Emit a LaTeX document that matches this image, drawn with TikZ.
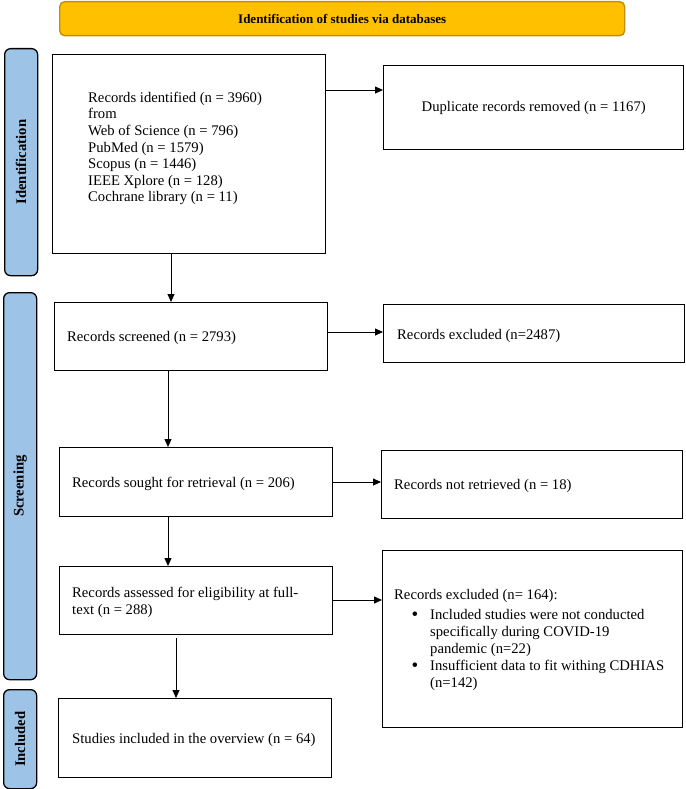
\documentclass[tikz,border=0pt]{standalone}
\usepackage{fontspec}
\setmainfont{Liberation Serif}
\usetikzlibrary{arrows.meta,calc}
\definecolor{hdrfill}{HTML}{FFC000}
\definecolor{hdrdraw}{HTML}{BF9000}
\definecolor{barfill}{HTML}{9DC3E6}
\begin{document}
\begin{tikzpicture}[x=1pt,y=-1pt,
  box/.style={draw=black, line width=1.4pt, rectangle, inner sep=0pt, anchor=north west},
  bar/.style={draw=black, line width=1.3pt, fill=barfill, rounded corners=6pt, rectangle, inner sep=0pt, anchor=north west},
  hdr/.style={draw=hdrdraw, line width=1.4pt, fill=hdrfill, rounded corners=5pt, rectangle, inner sep=0pt, anchor=north west, font=\bfseries\fontsize{13pt}{15pt}\selectfont},
  txt/.style={inner sep=0pt, anchor=base west, font=\fontsize{14.67pt}{16.5pt}\selectfont},
  dot/.style={inner sep=0pt, anchor=base west, font=\fontsize{19pt}{19pt}\selectfont},
  lbl/.style={inner sep=0pt, rotate=90, font=\bfseries\fontsize{14.67pt}{16.5pt}\selectfont},
  arr/.style={line width=0.8pt, -{Triangle[length=8pt,width=7pt]}}
]
\useasboundingbox (0,0) rectangle (685,789);

% header
\node[hdr, minimum width=565pt, minimum height=34pt] (hdr) at (59,1) {Identification of studies via databases};

% side bars
\node[bar, minimum width=33pt, minimum height=227pt] (barI) at (4,48) {};
\node[lbl] (lblI) at (barI.center) {Identification};
\node[bar, minimum width=33pt, minimum height=387pt] (barS) at (3,292) {};
\node[lbl] (lblS) at (barS.center) {Screening};
\node[bar, minimum width=33pt, minimum height=99pt] (barN) at (3,689) {};
\node[lbl] (lblN) at (barN.center) {Included};

% boxes
\node[box, minimum width=273pt, minimum height=199pt] (b1) at (52,54) {};
\node[box, minimum width=300pt, minimum height=84pt] (b2) at (383,65) {};
\node[box, minimum width=273pt, minimum height=68pt] (b3) at (54,302) {};
\node[box, minimum width=301pt, minimum height=58pt] (b4) at (383,304) {};
\node[box, minimum width=273pt, minimum height=69pt] (b5) at (59,447) {};
\node[box, minimum width=301pt, minimum height=68pt] (b6) at (381,450) {};
\node[box, minimum width=273pt, minimum height=68pt] (b7) at (59,566) {};
\node[box, minimum width=300pt, minimum height=177pt] (b8) at (382,550) {};
\node[box, minimum width=273pt, minimum height=79pt] (b9) at (58,698) {};

% texts
\node[txt] (t1a) at (88,102.5) {Records identified (n = 3960)};
\node[txt] (t1b) at (88,119) {from};
\node[txt] (t1c) at (88,135.5) {Web of Science (n = 796)};
\node[txt] (t1d) at (88,152) {PubMed (n = 1579)};
\node[txt] (t1e) at (88,168.5) {Scopus (n = 1446)};
\node[txt] (t1f) at (88,185) {IEEE Xplore (n = 128)};
\node[txt] (t1g) at (88,201.5) {Cochrane library (n = 11)};

\node[txt, anchor=center] (t2) at (b2.center) {Duplicate records removed (n = 1167)};
\node[txt] (t3) at (67,341.5) {Records screened (n = 2793)};
\node[txt] (t4) at (397,339.5) {Records excluded (n=2487)};
\node[txt] (t5) at (72,487.5) {Records sought for retrieval (n = 206)};
\node[txt] (t6) at (394,489.5) {Records not retrieved (n = 18)};
\node[txt] (t7a) at (72,597.5) {Records assessed for eligibility at full-};
\node[txt] (t7b) at (72,614.5) {text (n = 288)};

\node[txt] (t8a) at (394,599.5) {Records excluded (n= 164):};
\node[dot] (u8a) at (411.5,620.5) {\textbullet};
\node[txt] (t8b) at (430,619.5) {Included studies were not conducted};
\node[txt] (t8c) at (430,636.5) {specifically during COVID-19};
\node[txt] (t8d) at (430,653.5) {pandemic (n=22)};
\node[dot] (u8b) at (411.5,671.5) {\textbullet};
\node[txt] (t8e) at (430,670.5) {Insufficient data to fit withing CDHIAS};
\node[txt] (t8f) at (430,687.5) {(n=142)};

\node[txt] (t9) at (72,743.5) {Studies included in the overview (n = 64)};

% connectors
\draw[arr] (b1.east |- 0,90) -- (b2.west |- 0,90);
\draw[arr] (b1.south -| 171,0) -- (b3.north -| 171,0);
\draw[arr] (b3.east |- 0,332) -- (b4.west |- 0,332);
\draw[arr] (b3.south -| 168,0) -- (b5.north -| 168,0);
\draw[arr] (b5.east |- 0,482) -- (b6.west |- 0,482);
\draw[arr] (b5.south -| 168,0) -- (b7.north -| 168,0);
\draw[arr] (b7.east |- 0,600) -- (b8.west |- 0,600);
\draw[arr, shorten <=3pt] (b7.south -| 176,0) -- (b9.north -| 176,0);
\end{tikzpicture}
\end{document}
